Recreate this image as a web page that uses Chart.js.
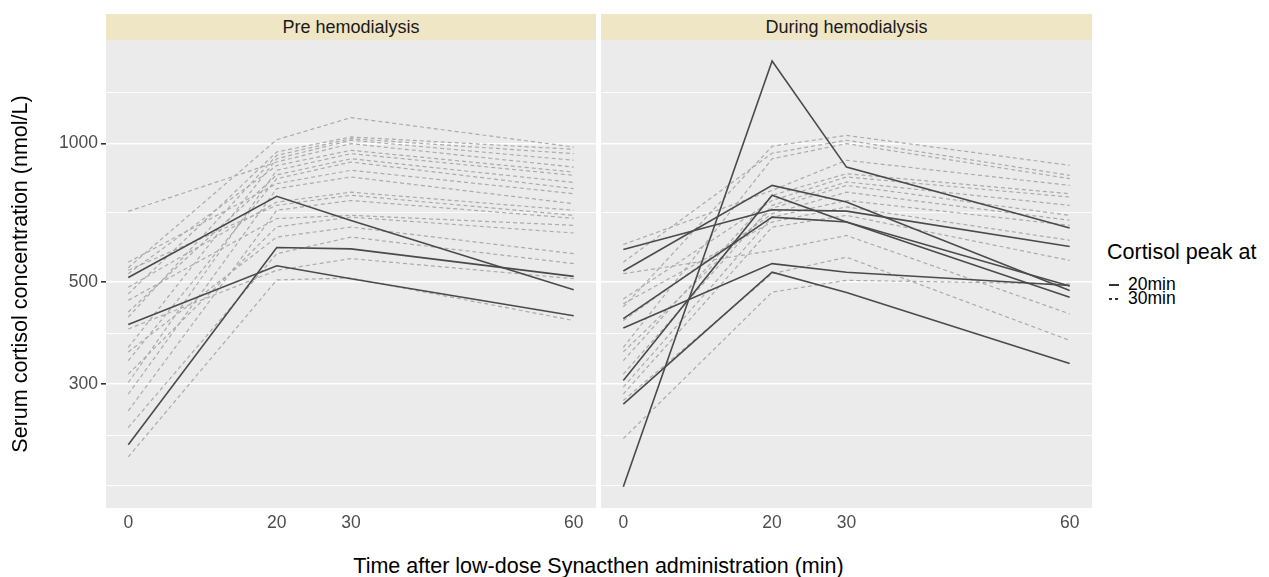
<!DOCTYPE html>
<html>
<head>
<meta charset="utf-8">
<script src="https://cdn.jsdelivr.net/npm/chart.js@4.4.1/dist/chart.umd.min.js"></script>
<style>
body { margin: 0; background: #fff; width: 1269px; height: 577px; position: relative; overflow: hidden; font-family: "Liberation Sans", Arial, sans-serif; }
canvas { position: absolute; top: 0; }
.strip { position: absolute; top: 14px; height: 26px; line-height: 27px; background: #efe6c6; color: #1a1a1a; font-size: 18px; text-align: center; }
.ytitle { position: absolute; left: -230px; top: 262px; width: 500px; line-height: 24px; font-size: 21.5px; text-align: center; transform: rotate(-90deg); color: #000; }
.xtitle { position: absolute; left: 106px; top: 554px; width: 985px; line-height: 24px; font-size: 21.5px; text-align: center; color: #000; }
.legtitle { position: absolute; left: 1107px; top: 240px; font-size: 21.5px; line-height: 24px; color: #000; }
.legitem { position: absolute; left: 1109px; font-size: 17.5px; line-height: 14px; color: #000; }
.key { display: inline-block; width: 10px; height: 2px; vertical-align: middle; margin-right: 9px; }
</style>
</head>
<body>
<canvas id="pre" width="596" height="540" style="left:0px"></canvas>
<canvas id="during" width="491" height="540" style="left:601px"></canvas>

<div class="strip" style="left:106px;width:490px">Pre hemodialysis</div>
<div class="strip" style="left:601px;width:491px">During hemodialysis</div>
<div class="ytitle">Serum cortisol concentration (nmol/L)</div>
<div class="xtitle">Time after low-dose Synacthen administration (min)</div>
<div class="legtitle">Cortisol peak at</div>
<div class="legitem" style="top:277px"><span class="key" style="background:#333"></span>20min</div>
<div class="legitem" style="top:291px"><span class="key" style="background:linear-gradient(to right,#333 0,#333 3px,transparent 3px,transparent 6px,#333 6px,#333 9px,transparent 9px)"></span>30min</div>

<script>
const minutes = [0, 20, 30, 60];
const yBreaks = [300, 500, 1000];
const yMinor = [180, 232, 387, 707, 1291];
const yMin = 161;
const yMax = 1681;

// serum cortisol per patient at 0 / 20 / 30 / 60 min
const preSolid = [
    [511, 768, 680, 481],
    [404, 542, 508, 422],
    [221, 594, 590, 514]
];
const preDashed = [
    [537, 1020, 1139, 983],
    [471, 959, 1034, 972],
    [419, 943, 1025, 951],
    [360, 927, 1017, 920],
    [712, 912, 1000, 889],
    [521, 896, 967, 867],
    [302, 875, 951, 853],
    [430, 855, 927, 823],
    [337, 839, 912, 798],
    [552, 818, 875, 778],
    [285, 798, 846, 740],
    [487, 746, 784, 716],
    [530, 734, 772, 698],
    [262, 716, 752, 688],
    [456, 687, 698, 664],
    [315, 659, 692, 639],
    [352, 626, 658, 576],
    [241, 576, 626, 548],
    [395, 530, 562, 508],
    [208, 505, 510, 412]
];
const duringSolid = [
    [179, 1513, 889, 655],
    [305, 772, 675, 463],
    [528, 811, 746, 479],
    [588, 718, 713, 597],
    [416, 692, 675, 490],
    [397, 548, 525, 491],
    [271, 525, 474, 332]
];
const duringDashed = [
    [441, 987, 1042, 897],
    [552, 953, 1017, 853],
    [360, 927, 1000, 839],
    [603, 791, 920, 811],
    [337, 772, 860, 778],
    [459, 752, 846, 765],
    [315, 734, 825, 734],
    [352, 723, 811, 698],
    [412, 704, 784, 681],
    [295, 692, 752, 664],
    [448, 675, 728, 616],
    [285, 658, 698, 557],
    [521, 585, 631, 426],
    [276, 521, 566, 373],
    [228, 475, 504, 495]
];

var fontFam = '"Liberation Sans", Arial, sans-serif';

function toPoints(vals) {
    return vals.map(function(v, i) { return { x: minutes[i], y: v }; });
}

function makeSets(solid, dashed) {
    var sets = [];
    solid.forEach(function(vals) {
        sets.push({ data: toPoints(vals), borderColor: '#4a4a4a', borderWidth: 1.6, pointRadius: 0, order: 0 });
    });
    dashed.forEach(function(vals) {
        sets.push({ data: toPoints(vals), borderColor: '#ababab', borderWidth: 1.2, borderDash: [4, 3], pointRadius: 0, order: 1 });
    });
    return sets;
}

const panelBg = {
    id: 'panelBg',
    beforeDraw: function(chart) {
        var a = chart.chartArea;
        chart.ctx.save();
        chart.ctx.fillStyle = '#ebebeb';
        chart.ctx.fillRect(a.left, a.top, a.right - a.left, a.bottom - a.top);
        chart.ctx.restore();
    }
};

function makePanel(id, solid, dashed, showY) {
    return new Chart(document.getElementById(id), {
        type: 'line',
        data: { datasets: makeSets(solid, dashed) },
        options: {
            responsive: false,
            animation: false,
            layout: { padding: { top: 40, left: 0, right: 0, bottom: 0 } },
            plugins: { legend: { display: false }, tooltip: { enabled: false } },
            scales: {
                x: {
                    type: 'linear', min: -3, max: 63,
                    afterBuildTicks: function(s) { s.ticks = minutes.map(function(v) { return { value: v }; }); },
                    afterFit: function(s) { s.height = 32; },
                    grid: { display: false, drawTicks: false },
                    border: { display: false },
                    ticks: { color: '#4d4d4d', font: { size: 17.5, family: fontFam }, padding: 5, maxRotation: 0, autoSkip: false }
                },
                y: {
                    type: 'logarithmic', min: yMin, max: yMax,
                    afterBuildTicks: function(s) {
                        s.ticks = yMinor.concat(yBreaks).sort(function(a, b) { return a - b; }).map(function(v) { return { value: v }; });
                    },
                    afterFit: function(s) { s.width = showY ? 106 : 0; },
                    grid: {
                        color: '#ffffff',
                        lineWidth: function(c) { return yBreaks.indexOf(c.tick.value) >= 0 ? 1.6 : 0.8; },
                        tickColor: function(c) { return yBreaks.indexOf(c.tick.value) >= 0 ? '#333333' : 'rgba(0,0,0,0)'; },
                        tickLength: 5,
                        drawTicks: showY
                    },
                    border: { display: false },
                    ticks: {
                        display: showY,
                        autoSkip: false,
                        padding: 3,
                        color: '#4d4d4d',
                        font: { size: 17.5, family: fontFam },
                        callback: function(v) { return yBreaks.indexOf(v) >= 0 ? String(v) : ''; }
                    }
                }
            }
        },
        plugins: [panelBg]
    });
}

makePanel('pre', preSolid, preDashed, true);
makePanel('during', duringSolid, duringDashed, false);
</script>
</body>
</html>
